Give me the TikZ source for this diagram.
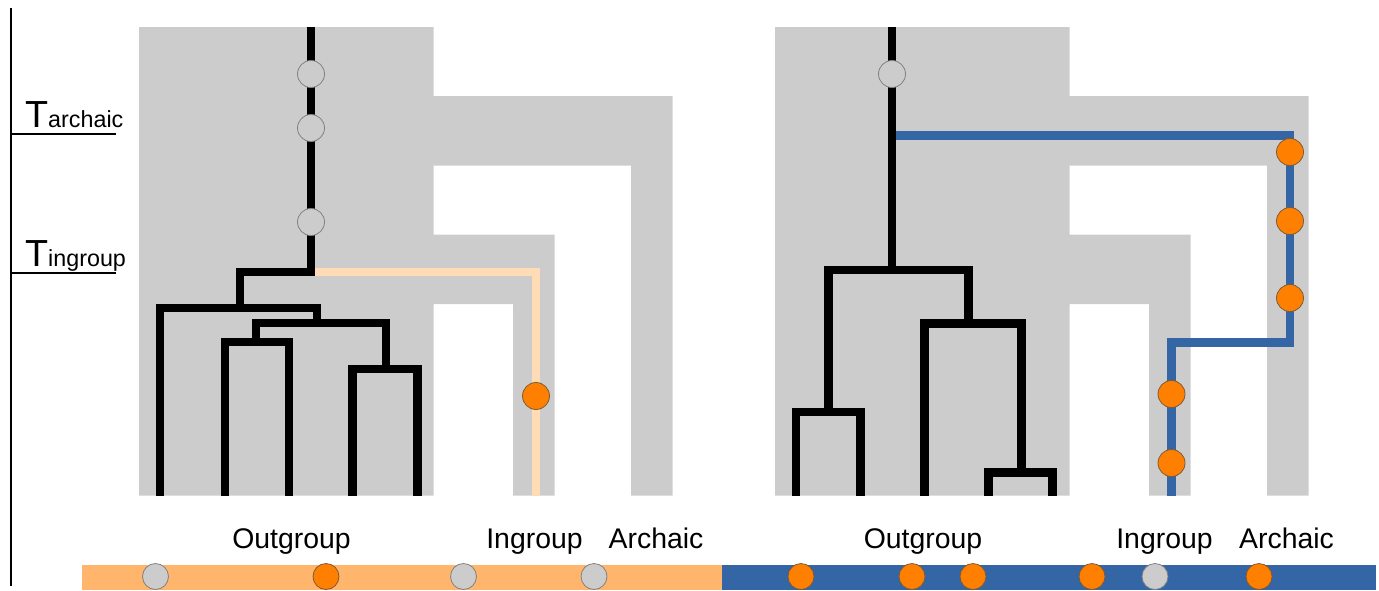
\documentclass[tikz,border=0pt]{standalone}
\usepackage{fontspec}
\setmainfont{Liberation Sans}
\definecolor{greyfill}{HTML}{CCCCCC}
\definecolor{peach}{HTML}{FFDBB6}
\definecolor{lorange}{HTML}{FFB66C}
\definecolor{blueline}{HTML}{3465A4}
\definecolor{dot}{HTML}{FF8000}
\definecolor{dotedge}{RGB}{125,90,55}
\tikzset{
  treeline/.style={line width=8.5pt, line join=miter, line cap=butt},
  gdot/.style={circle, fill=greyfill, draw=black!50, line width=0.8pt, minimum size=27pt, inner sep=0pt},
  odot/.style={circle, fill=dot, draw=dotedge, line width=0.8pt, minimum size=27pt, inner sep=0pt},
  sgdot/.style={gdot, minimum size=26pt},
  sodot/.style={odot, minimum size=26pt},
  lab/.style={anchor=base, inner sep=0pt, font=\fontsize{28.4}{30}\selectfont},
}
\begin{document}
\begin{tikzpicture}[x=1pt, y=-1pt]
\useasboundingbox (0,0) rectangle (1379,590);
% gray species shapes
\foreach \dx in {0,636}{
  \fill[greyfill, shift={(\dx,0)}] (139,27) -- (433.5,27) -- (433.5,96) -- (672.5,96) -- (672.5,495.5) -- (631,495.5) -- (631,165.5) -- (433.5,165.5) -- (433.5,234.5) -- (554.5,234.5) -- (554.5,495.5) -- (513,495.5) -- (513,304) -- (433.5,304) -- (433.5,495.5) -- (139,495.5) -- cycle;
}
% axis
\coordinate (axtop) at (11,8);
\coordinate (axbot) at (11,586);
\draw[line width=2.5pt] (axtop) -- (axbot);
\coordinate (t1a) at (11,134); \coordinate (t1b) at (116,134);
\coordinate (t2a) at (11,273); \coordinate (t2b) at (116,273);
\draw[line width=2pt] (t1a) -- (t1b);
\draw[line width=2pt] (t2a) -- (t2b);
\node[anchor=base west, inner sep=0pt] (tarch) at (25,127) {\fontsize{37.7}{40}\selectfont T\fontsize{23.3}{25}\selectfont archaic};
\node[anchor=base west, inner sep=0pt] (tingr) at (25,266) {\fontsize{37.7}{40}\selectfont T\fontsize{23.3}{25}\selectfont ingroup};
% left tree
\draw[treeline, peach] (311,272) -- (536,272) -- (536,495.5);
\draw[treeline] (311,27) -- (311,272) -- (240,272) -- (240,308);
\draw[treeline] (160,495.5) -- (160,308) -- (317,308) -- (317,323);
\draw[treeline] (256,342) -- (256,323) -- (386,323) -- (386,369);
\draw[treeline] (225,495.5) -- (225,342) -- (289,342) -- (289,495.5);
\draw[treeline] (352.5,495.5) -- (352.5,369) -- (417.5,369) -- (417.5,495.5);
\node[gdot] (l1) at (311,74) {};
\node[gdot] (l2) at (311,128) {};
\node[gdot] (l3) at (311,222) {};
\node[odot] (l4) at (536,396) {};
% right tree
\draw[treeline, blueline] (892,135.5) -- (1290,135.5) -- (1290,342.5) -- (1171.5,342.5) -- (1171.5,495.5);
\draw[treeline] (892,27) -- (892,270);
\draw[treeline] (828.5,412) -- (828.5,270) -- (968.5,270) -- (968.5,323.5);
\draw[treeline] (796,495.5) -- (796,412) -- (860.5,412) -- (860.5,495.5);
\draw[treeline] (924.5,495.5) -- (924.5,323.5) -- (1021.5,323.5) -- (1021.5,472.5);
\draw[treeline] (988.5,495.5) -- (988.5,472.5) -- (1052.5,472.5) -- (1052.5,495.5);
\node[gdot] (r1) at (892,74) {};
\node[odot] (r2) at (1290,152) {};
\node[odot] (r3) at (1290,221) {};
\node[odot] (r4) at (1290,298) {};
\node[odot] (r5) at (1171.5,394) {};
\node[odot] (r6) at (1171.5,463) {};
% labels
\node[lab] (lo) at (291.5,548) {Outgroup};
\node[lab] (li) at (534.5,548) {Ingroup};
\node[lab] (la) at (656,548) {Archaic};
\node[lab] (ro) at (923,548) {Outgroup};
\node[lab] (ri) at (1164.5,548) {Ingroup};
\node[lab] (ra) at (1286.5,548) {Archaic};
% bottom bar
\fill[lorange] (81.5,564.5) rectangle (722,590);
\fill[blueline] (722,564.5) rectangle (1375.5,590);
\node[sgdot] (b1) at (155.5,576.5) {};
\node[sodot] (b2) at (326,576.5) {};
\node[sgdot] (b3) at (463.5,576.5) {};
\node[sgdot] (b4) at (594,576.5) {};
\node[sodot] (b5) at (801,576.5) {};
\node[sodot] (b6) at (912,576.5) {};
\node[sodot] (b7) at (973,576.5) {};
\node[sodot] (b8) at (1092,576.5) {};
\node[sgdot] (b9) at (1155,576.5) {};
\node[sodot] (b10) at (1259,576.5) {};
\end{tikzpicture}
\end{document}
